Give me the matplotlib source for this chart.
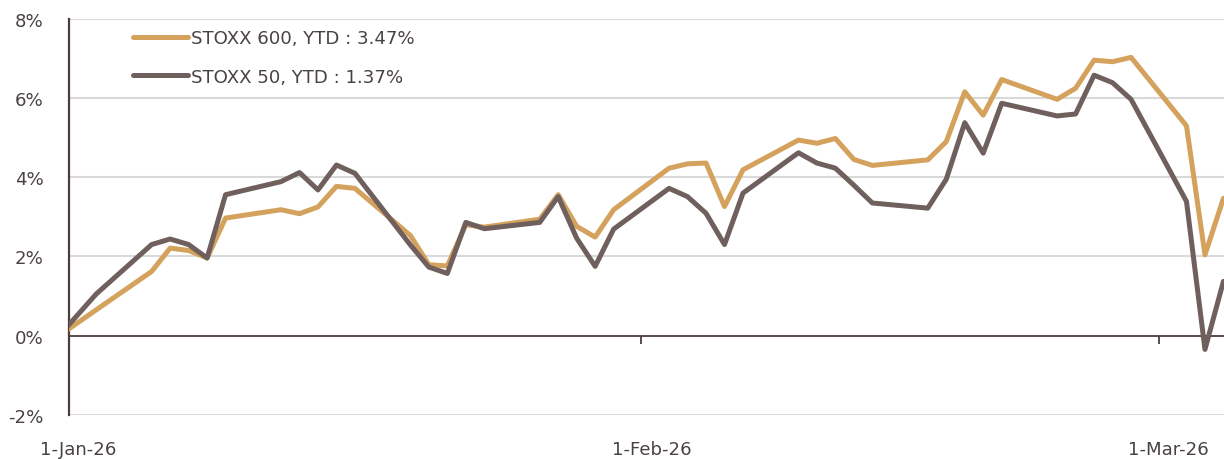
import matplotlib
matplotlib.use("Agg")
import matplotlib.pyplot as plt
import matplotlib.dates as mdates
from matplotlib.transforms import ScaledTranslation
import pandas as pd

dates = ['2025-12-31', '2026-01-02',
         '2026-01-05', '2026-01-06', '2026-01-07', '2026-01-08', '2026-01-09',
         '2026-01-12', '2026-01-13', '2026-01-14', '2026-01-15', '2026-01-16',
         '2026-01-19', '2026-01-20', '2026-01-21', '2026-01-22', '2026-01-23',
         '2026-01-26', '2026-01-27', '2026-01-28', '2026-01-29', '2026-01-30',
         '2026-02-02', '2026-02-03', '2026-02-04', '2026-02-05', '2026-02-06',
         '2026-02-09', '2026-02-10', '2026-02-11', '2026-02-12', '2026-02-13',
         '2026-02-16', '2026-02-17', '2026-02-18', '2026-02-19', '2026-02-20',
         '2026-02-23', '2026-02-24', '2026-02-25', '2026-02-26', '2026-02-27',
         '2026-03-02', '2026-03-03', '2026-03-04']

stoxx600 = [0.00, 0.65,
            1.62, 2.21, 2.15, 1.96, 2.97,
            3.18, 3.08, 3.25, 3.77, 3.72,
            2.53, 1.79, 1.76, 2.80, 2.74,
            2.94, 3.56, 2.76, 2.49, 3.18,
            4.23, 4.34, 4.36, 3.26, 4.19,
            4.94, 4.86, 4.98, 4.45, 4.30,
            4.44, 4.90, 6.16, 5.57, 6.47,
            5.97, 6.25, 6.96, 6.92, 7.03,
            5.30, 2.04, 3.47]

stoxx50 = [0.00, 1.05,
           2.30, 2.44, 2.30, 1.96, 3.56,
           3.89, 4.12, 3.68, 4.31, 4.10,
           2.29, 1.73, 1.57, 2.86, 2.70,
           2.86, 3.51, 2.46, 1.75, 2.69,
           3.72, 3.51, 3.09, 2.30, 3.60,
           4.62, 4.36, 4.23, 3.80, 3.35,
           3.22, 3.95, 5.38, 4.61, 5.87,
           5.55, 5.60, 6.58, 6.39, 5.97,
           3.39, -0.35, 1.37]

labels = ['STOXX 600, YTD : 3.47%', 'STOXX 50, YTD : 1.37%']
x_tick_dates = ['2026-01-01', '2026-02-01', '2026-03-01']
x_tick_labels = ['1-Jan-26', '1-Feb-26', '1-Mar-26']
y_ticks = [-2, 0, 2, 4, 6, 8]
y_tick_labels = ['-2%', '0%', '2%', '4%', '6%', '8%']

GOLD = '#D4A25D'
DARK = '#6F605E'
TEXT = '#4A4242'
AXIS = '#4A3E3C'
GRID = '#D9D9D9'

plt.rcParams['font.family'] = ['DejaVu Sans']
FS = 13.1

x = pd.to_datetime(dates) + pd.Timedelta(hours=12)

fig = plt.figure(figsize=(12.24, 4.60), dpi=100)
ax = fig.add_axes([68.5 / 1224, 44.3 / 460, 1155.5 / 1224, 395.7 / 460])

ax.plot(x, stoxx600, color=GOLD, lw=3.6, solid_joinstyle='round',
        solid_capstyle='round', label=labels[0], zorder=3)
ax.plot(x, stoxx50, color=DARK, lw=3.6, solid_joinstyle='round',
        solid_capstyle='round', label=labels[1], zorder=4)

x0 = pd.Timestamp('2026-01-01')
ax.set_xlim(mdates.date2num(x0), mdates.date2num(x0) + 62.53)
ax.set_ylim(-2, 8)

for v in y_ticks:
    if v != 0:
        ax.axhline(v, color=GRID, lw=1.5, zorder=1)

for s in ['top', 'right']:
    ax.spines[s].set_visible(False)
ax.spines['bottom'].set_position(('data', 0))
ax.spines['bottom'].set_color(AXIS)
ax.spines['bottom'].set_linewidth(1.3)
ax.spines['bottom'].set_zorder(2)
ax.spines['left'].set_color(AXIS)
ax.spines['left'].set_linewidth(1.6)

ax.set_yticks(y_ticks)
ax.set_yticklabels(y_tick_labels)
ax.tick_params(axis='y', length=0, pad=18, labelsize=FS, labelcolor=TEXT)

ax.set_xticks(pd.to_datetime(x_tick_dates))
ax.set_xticklabels(x_tick_labels)
ax.tick_params(axis='x', direction='out', length=6, width=1.3, color=AXIS,
               pad=69, labelsize=FS, labelcolor=TEXT)
off = ScaledTranslation(10 / 100, 0, fig.dpi_scale_trans)
for lab in ax.get_xticklabels():
    lab.set_transform(lab.get_transform() + off)

leg = ax.legend(loc='upper left', bbox_to_anchor=(0.0558, 0.975), frameon=False,
                fontsize=FS, handlelength=3.0, handletextpad=0.2,
                labelspacing=1.15, borderpad=0, borderaxespad=0)
for t in leg.get_texts():
    t.set_color(TEXT)

fig.savefig('out.png', dpi=100)
